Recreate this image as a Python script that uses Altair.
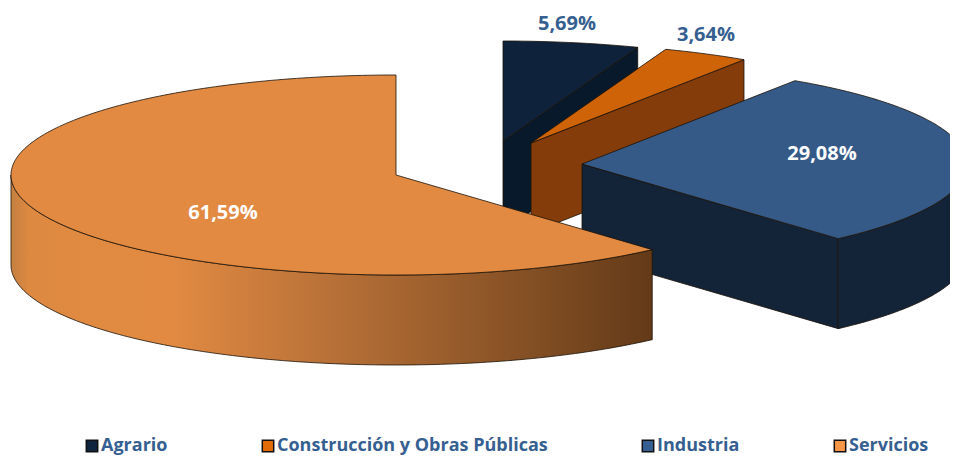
import math
import altair as alt
import pandas as pd

categories = ["Agrario", "Construcción y Obras Públicas", "Industria", "Servicios"]
shares = [5.69, 3.64, 29.08, 61.59]
labels = ["5,69%", "3,64%", "29,08%", "61,59%"]
legend_colors = ["#0F243E", "#E36C09", "#365F91", "#F79646"]
top_colors = ["#0E233B", "#CF6308", "#355A87", "#E28A42"]
cut_colors = ["#07192B", "#843C0A", "#142438", None]

RX, RY, DEPTH = 385, 100, 90
centers = [(503, 141), (531, 143), (582, 164), (396, 175)]
label_pos = [(567, 24), (706, 35), (822, 154), (223, 213)]
label_colors = ["#365F91", "#365F91", "#FFFFFF", "#FFFFFF"]


def pt(c, deg, dz=0):
    a = math.radians(deg)
    return [c[0] + RX * math.sin(a), c[1] - RY * math.cos(a) + dz]


def arc(c, a0, a1, dz=0):
    n = max(2, int(abs(a1 - a0)) + 1)
    return [pt(c, a0 + (a1 - a0) * i / n, dz) for i in range(n + 1)]


def feature(points):
    ring = points + [points[0]]
    return {"type": "Feature", "properties": {},
            "geometry": {"type": "Polygon", "coordinates": [ring]}}


proj = alt.Projection(type="identity", scale=1, translate=[-8, -8])
stroke = {"stroke": "#1A1208", "strokeWidth": 0.8, "strokeJoin": "round"}


def shape(points, fill):
    return (alt.Chart(alt.Data(values=[feature(points)]))
            .mark_geoshape(fill=fill, **stroke)
            .project(**proj.to_dict()))


serv_gradient = alt.Gradient(
    gradient="linear", x1=0, x2=1, y1=0, y2=0,
    stops=[alt.GradientStop(offset=0, color="#C58040"),
           alt.GradientStop(offset=0.03, color="#DE8941"),
           alt.GradientStop(offset=0.25, color="#E28A42"),
           alt.GradientStop(offset=0.47, color="#BD7439"),
           alt.GradientStop(offset=1, color="#633A18")])

layers = []
start = 0.0
for i, share in enumerate(shares):
    end = start + share * 3.6
    c = centers[i]
    top = [list(c)] + arc(c, start, end)
    if cut_colors[i]:  # the cut face at the wedge's clockwise end
        layers.append(shape([list(c), pt(c, end), pt(c, end, DEPTH),
                             [c[0], c[1] + DEPTH]], cut_colors[i]))
    # visible part of the outer rim: front half of the ellipse
    r0, r1 = max(start, 90), min(end, 270)
    if r1 > r0:
        rim = arc(c, r0, r1) + arc(c, r1, r0, DEPTH)
        layers.append(shape(rim, serv_gradient if i == 3 else cut_colors[i]))
    layers.append(shape(top, top_colors[i]))
    start = end

label_df = pd.DataFrame({"label": labels,
                         "lon": [p[0] for p in label_pos],
                         "lat": [p[1] for p in label_pos],
                         "col": label_colors})
text = (alt.Chart(label_df)
        .mark_text(font="Open Sans", fontWeight="bold", fontSize=20, align="center", baseline="middle")
        .encode(longitude="lon:Q", latitude="lat:Q", text="label:N",
                color=alt.Color("col:N", scale=None))
        .project(**proj.to_dict()))

legend_df = pd.DataFrame({"cat": categories})
legend_layer = (alt.Chart(legend_df)
                .mark_square(size=0, stroke="#111111", opacity=1)
                .encode(color=alt.Color(
                    "cat:N",
                    scale=alt.Scale(domain=categories, range=legend_colors),
                    legend=alt.Legend(
                        title=None, orient="none", direction="horizontal", columns=4,
                        legendX=75, legendY=429, columnPadding=91,
                        symbolType="square", symbolSize=130, symbolStrokeColor="#111111",
                        symbolStrokeWidth=1.5, symbolOpacity=1,
                        labelFont="Open Sans", labelFontWeight="bold", labelFontSize=18,
                        labelColor="#365F91", labelOffset=0, labelLimit=400))))

chart = (alt.layer(*layers, text, legend_layer)
         .resolve_scale(color="independent")
         .properties(width=942, height=449, padding=0, autosize=alt.AutoSizeParams(type="none"))
         .configure_view(stroke=None))

chart.save("out.html", embed_options={"renderer": "svg", "actions": False})
